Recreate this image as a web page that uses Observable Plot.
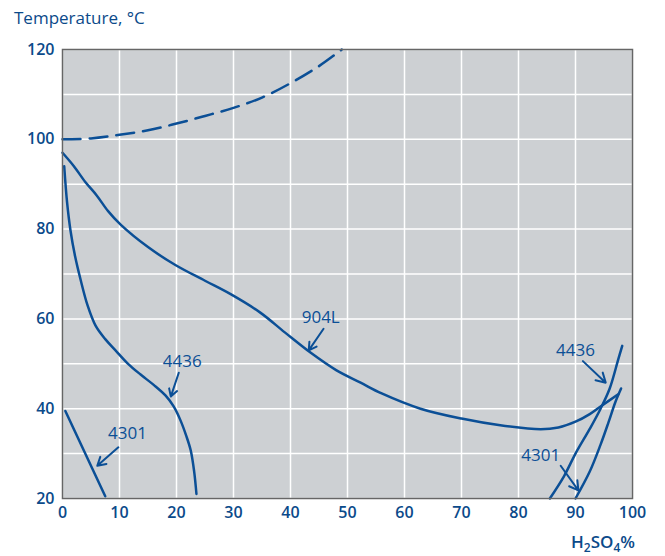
<!DOCTYPE html>
<html><head><meta charset="utf-8">
<script src="https://cdn.jsdelivr.net/npm/d3@7"></script>
<script src="https://cdn.jsdelivr.net/npm/@observablehq/plot@0.6"></script>
<style>
body{margin:0;background:#fff;font-family:"Open Sans",sans-serif;}
#wrap{position:relative;width:665px;height:556px;}
#title{position:absolute;left:14px;top:6px;font-size:17px;color:#0b4a8a;}
#xlab{position:absolute;left:571px;top:530px;font-size:17px;color:#0b4a8a;font-weight:600;}
</style></head>
<body><div id="wrap"><div id="chart"></div>
<div id="title">Temperature, °C</div>
<div id="xlab">H<sub style="font-size:12px">2</sub>SO<sub style="font-size:12px">4</sub>%</div></div>
<script>
const BLUE = "#0b4f96";
const dashed = [[0,100],[5,100.2],[10,101],[15,102],[20,103.5],[25,105.2],[30,107],[35,109.3],[40,112.5],[45,116.3],[49,120]];
const l904 = [[0,97],[2,94],[4,90.5],[6,87.5],[8,84],[10.2,81],[15,76],[19.8,72],[25,68.5],[29.5,65.5],[34.7,61.4],[39,57],[43.5,52.5],[48,48.6],[52.3,45.8],[56,43.4],[62.8,40],[70,37.8],[76.8,36.3],[83.9,35.4],[87,35.8],[90,37.1],[92.5,38.8],[94.4,40.5],[97.5,43.2]];
const l4436a = [[0.3,94],[0.8,86],[1.4,79.7],[2.2,74],[3.2,68.6],[4.4,63],[5.8,58.5],[7.5,55.5],[9.3,53],[11.5,50],[13.7,47.6],[16,45.3],[18.1,42.9],[19.5,40.5],[20.7,37.4],[21.7,34],[22.5,30.7],[23.1,26],[23.5,21]];
const l4301a = [[0.5,39.5],[7.5,20.5]];
const l4436b = [[85.5,20],[88,25],[90,30],[92.5,35.5],[94.4,40],[96,44.5],[97.5,51],[98.2,54]];
const l4301b = [[90,20],[92.5,26],[94.4,32],[95.8,37],[97,41.5],[98,44.5]];
const labels = [["904L",45.3,60.3],["4436",21,50.5],["4301",11.4,34.5],["4436",90,53],["4301",83.9,29.6]];
const arrows = [[45.8,57.8,43.2,53],[20.4,48,19,42.7],[9.8,31.4,6.1,27.3],[91.3,50.6,95.3,45.8],[87.4,27.3,90.5,21.8]];
const xTicks = d3.range(0,101,10), yTicks = d3.range(20,121,20), yGrid = d3.range(20,121,10);

const plot = Plot.plot({
  width: 665, height: 556, marginLeft: 62, marginTop: 49, marginRight: 33, marginBottom: 58,
  style: {fontFamily: "Open Sans", fontSize: "16px", color: "#0b4a8a", fontWeight: 600},
  x: {domain: [0,100], ticks: xTicks, tickSize: 0, tickPadding: 8, label: null},
  y: {domain: [20,120], ticks: yTicks, tickSize: 0, tickPadding: 8, label: null},
  marks: [
    Plot.frame({fill: "#cdd0d3"}),
    Plot.ruleX(xTicks, {stroke: "#fff", strokeWidth: 1.5}),
    Plot.ruleY(yGrid, {stroke: "#fff", strokeWidth: 1.5}),
    Plot.line(dashed, {stroke: BLUE, strokeWidth: 2.5, strokeDasharray: "18 9", curve: "catmull-rom"}),
    ...[l904, l4436a, l4301a, l4436b, l4301b].map(d => Plot.line(d, {stroke: BLUE, strokeWidth: 2.5, curve: "catmull-rom"})),
    Plot.arrow(arrows, {x1: d=>d[0], y1: d=>d[1], x2: d=>d[2], y2: d=>d[3], stroke: BLUE, strokeWidth: 2, headLength: 10}),
    Plot.text(labels, {x: d=>d[1], y: d=>d[2], text: d=>d[0], fill: BLUE, fontSize: 17, fontWeight: 500}),
    Plot.frame({stroke: "#666", strokeWidth: 1.5}),
  ]
});
document.getElementById("chart").appendChild(plot);
</script></body></html>
